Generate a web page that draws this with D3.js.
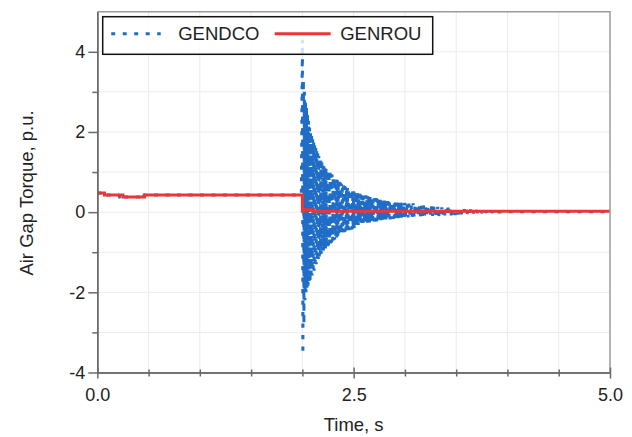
<!DOCTYPE html>
<html>
<head>
<meta charset="utf-8">
<script src="https://cdn.jsdelivr.net/npm/d3@7"></script>
<style>
    body { margin: 0; background: #fff; }
    #chart { width: 632px; height: 437px; }
    text { font-family: "Liberation Sans", Arial, sans-serif; fill: #222; }
</style>
</head>
<body>
<div id="chart"></div>
<script>
// GENROU (red), stepwise torque
const genrouTime   = [0, 0.07, 0.07, 0.25, 0.25, 0.46, 0.46, 2.0, 2.0, 2.02, 2.02, 2.1, 2.1, 5.0];
const genrouTorque = [0.48, 0.48, 0.43, 0.43, 0.38, 0.38, 0.43, 0.43, 0.03, 0.03, 0.06, 0.06, 0.02, 0.02];

// GENDCO (blue dotted) before the fault
const gendcoPreTime   = [0, 0.07, 0.07, 0.21, 0.22, 0.23, 0.25, 0.42, 0.43, 0.44, 0.46, 1.99];
const gendcoPreTorque = [0.48, 0.48, 0.43, 0.43, 0.35, 0.43, 0.38, 0.38, 0.45, 0.38, 0.43, 0.43];

// GENDCO oscillation after the fault, alternating peaks
// 2.00 - 3.00 s, one peak every 0.005 s
const gendcoFastStart = 2.0;
const gendcoFastStep = 0.005;
const gendcoFastTorque = [
    4.3, -3.55, 3.3, -2.8, 3.0, -2.2, 2.8, -2.0, 2.65, -1.92, 2.48, -1.86, 2.3, -1.8, 2.12, -1.74, 2.0, -1.66, 1.9, -1.58,
    1.82, -1.52, 1.74, -1.46, 1.66, -1.38, 1.6, -1.3, 1.52, -1.24, 1.46, -1.17, 1.4, -1.12, 1.34, -1.07, 1.28, -1.03, 1.24, -0.99,
    1.2, -0.96, 1.16, -0.94, 1.12, -0.91, 1.09, -0.88, 1.06, -0.85, 1.03, -0.83, 1.0, -0.8, 0.98, -0.78, 0.95, -0.76, 0.93, -0.73,
    0.9, -0.7, 0.88, -0.68, 0.85, -0.66, 0.83, -0.63, 0.8, -0.61, 0.78, -0.58, 0.76, -0.56, 0.74, -0.54, 0.71, -0.53, 0.69, -0.52,
    0.67, -0.5, 0.65, -0.49, 0.63, -0.48, 0.61, -0.47, 0.6, -0.46, 0.58, -0.45, 0.57, -0.44, 0.56, -0.44, 0.55, -0.43, 0.54, -0.42,
    0.52, -0.4, 0.51, -0.38, 0.5, -0.36, 0.49, -0.34, 0.48, -0.32, 0.47, -0.3, 0.46, -0.29, 0.45, -0.28, 0.44, -0.28, 0.44, -0.27,
    0.43, -0.27, 0.41, -0.28, 0.42, -0.26, 0.39, -0.27, 0.4, -0.25, 0.38, -0.26, 0.38, -0.24, 0.36, -0.25, 0.37, -0.23, 0.35, -0.24,
    0.35, -0.24, 0.34, -0.22, 0.35, -0.23, 0.33, -0.21, 0.33, -0.22, 0.32, -0.21, 0.31, -0.2, 0.32, -0.2, 0.3, -0.19, 0.3, -0.2,
    0.29, -0.19, 0.3, -0.18, 0.28, -0.19, 0.28, -0.18, 0.27, -0.17, 0.28, -0.18, 0.26, -0.17, 0.27, -0.16, 0.26, -0.17, 0.25, -0.16,
    0.26, -0.16, 0.25, -0.15, 0.24, -0.16, 0.25, -0.15, 0.24, -0.14, 0.23, -0.15, 0.24, -0.14, 0.23, -0.14, 0.22, -0.13, 0.23, -0.14
];
// 3.00 - 3.95 s, one peak every 0.01 s
const gendcoSlowStart = 3.0;
const gendcoSlowStep = 0.01;
const gendcoSlowTorque = [
    0.23, -0.14, 0.24, -0.13, 0.22, -0.14, 0.21, -0.12, 0.22, -0.13,
    0.2, -0.12, 0.19, -0.11, 0.19, -0.12, 0.17, -0.11, 0.18, -0.1,
    0.16, -0.11, 0.17, -0.1, 0.15, -0.1, 0.14, -0.09, 0.15, -0.1,
    0.13, -0.09, 0.13, -0.1, 0.12, -0.08, 0.12, -0.09, 0.11, -0.08,
    0.1, -0.08, 0.11, -0.07, 0.09, -0.08, 0.09, -0.06, 0.08, -0.07,
    0.08, -0.06, 0.07, -0.05, 0.08, -0.05, 0.06, -0.04, 0.07, -0.05,
    0.06, -0.04, 0.05, -0.03, 0.06, -0.04, 0.05, -0.03, 0.04, -0.03,
    0.05, -0.02, 0.04, -0.03, 0.04, -0.02, 0.03, -0.02, 0.04, -0.01,
    0.03, -0.02, 0.03, -0.01, 0.03, -0.01, 0.02, -0.01, 0.03, 0.0,
    0.02, -0.01, 0.02, 0.0, 0.01, 0.0
];
const gendcoTailTime   = [3.96, 5.0];
const gendcoTailTorque = [0.01, 0.01];

const xMajorTicks = [0, 2.5, 5];
const xMinorTicks = [0.5, 1, 1.5, 2, 3, 3.5, 4, 4.5];
const yMajorTicks = [-4, -2, 0, 2, 4];
const yMinorTicks = [-3, -1, 1, 3];
const seriesNames = ["GENDCO", "GENROU"];


class TorqueVis {

    constructor(_parentElement) {
        this.parentElement = _parentElement;
        this.initVis();
    }

    initVis() {
        let vis = this;

        vis.margin = {top: 11.7, right: 22, bottom: 64.5, left: 97.3};
        vis.width = 632 - vis.margin.left - vis.margin.right;
        vis.height = 437 - vis.margin.top - vis.margin.bottom;

        vis.svg = d3.select("#" + vis.parentElement).append("svg")
            .attr("width", 632)
            .attr("height", 437)
            .append("g")
            .attr("transform", "translate(" + vis.margin.left + "," + vis.margin.top + ")");

        vis.x = d3.scaleLinear().domain([0, 5]).range([0, vis.width]);
        vis.y = d3.scaleLinear().domain([-4, 5]).range([vis.height, 0]);

        vis.blue = "#1f6dc6";
        vis.red = "#ee3535";

        vis.wrangleData();
    }

    wrangleData() {
        let vis = this;

        vis.genrou = genrouTime.map((t, i) => [t, genrouTorque[i]]);

        vis.gendco = gendcoPreTime.map((t, i) => [t, gendcoPreTorque[i]])
            .concat(gendcoFastTorque.map((v, i) => [gendcoFastStart + i * gendcoFastStep, v]))
            .concat(gendcoSlowTorque.map((v, i) => [gendcoSlowStart + i * gendcoSlowStep, v]))
            .concat(gendcoTailTime.map((t, i) => [t, gendcoTailTorque[i]]));

        vis.updateVis();
    }

    updateVis() {
        let vis = this;

        // grid
        let grid = vis.svg.append("g").attr("class", "grid");
        grid.selectAll(".gx")
            .data(d3.range(1, 10).map(d => d * 0.5))
            .enter().append("line")
            .attr("x1", d => vis.x(d)).attr("x2", d => vis.x(d))
            .attr("y1", 0).attr("y2", vis.height)
            .attr("stroke", "#ebebeb").attr("stroke-width", 1);
        grid.selectAll(".gy")
            .data(d3.range(-3, 5))
            .enter().append("line")
            .attr("x1", 0).attr("x2", vis.width)
            .attr("y1", d => vis.y(d)).attr("y2", d => vis.y(d))
            .attr("stroke", "#ebebeb").attr("stroke-width", 1);

        let line = d3.line()
            .x(d => vis.x(d[0]))
            .y(d => vis.y(d[1]));

        vis.svg.append("path")
            .datum(vis.gendco)
            .attr("d", line)
            .attr("fill", "none")
            .attr("stroke", vis.blue)
            .attr("stroke-width", 3)
            .attr("stroke-linejoin", "bevel")
            .attr("stroke-dasharray", "4,7.5");

        vis.svg.append("path")
            .datum(vis.genrou)
            .attr("d", line)
            .attr("fill", "none")
            .attr("stroke", vis.red)
            .attr("stroke-width", 3);

        // frame top / right
        vis.svg.append("path")
            .attr("d", "M0,0H" + vis.width + "V" + vis.height)
            .attr("fill", "none")
            .attr("stroke", "#9a9a9a")
            .attr("stroke-width", 1.5);

        // axes
        vis.svg.append("g")
            .attr("class", "axis axis-y")
            .call(d3.axisLeft(vis.y).tickValues(yMajorTicks).tickSize(9).tickSizeOuter(0)
                .tickPadding(3).tickFormat(d => d.toString()));
        vis.svg.append("g")
            .attr("class", "axis axis-y-minor")
            .call(d3.axisLeft(vis.y).tickValues(yMinorTicks).tickSize(5).tickSizeOuter(0).tickFormat(""));

        let xAxis = vis.svg.append("g")
            .attr("class", "axis axis-x")
            .attr("transform", "translate(0," + vis.height + ")")
            .call(d3.axisBottom(vis.x).tickValues(xMajorTicks).tickSize(6).tickSizeOuter(0)
                .tickPadding(10).tickFormat(d3.format(".1f")));
        xAxis.selectAll(".tick line").attr("y1", -5);
        let xMinor = vis.svg.append("g")
            .attr("class", "axis axis-x-minor")
            .attr("transform", "translate(0," + vis.height + ")")
            .call(d3.axisBottom(vis.x).tickValues(xMinorTicks).tickSize(4).tickSizeOuter(0).tickFormat(""));
        xMinor.selectAll(".tick line").attr("y1", -3);

        vis.svg.selectAll(".axis path.domain").attr("stroke", "#6a6a6a").attr("stroke-width", 1.5);
        vis.svg.selectAll(".axis .tick line").attr("stroke", "#6a6a6a").attr("stroke-width", 1.5);
        vis.svg.selectAll(".axis .tick text")
            .attr("font-size", 18)
            .attr("font-family", "Liberation Sans, Arial, sans-serif")
            .attr("fill", "#222");

        // axis labels
        vis.svg.append("text")
            .attr("x", vis.width / 2)
            .attr("y", vis.height + 59)
            .style("text-anchor", "middle")
            .style("font-size", "18.5px")
            .text("Time, s");

        vis.svg.append("text")
            .attr("transform", "rotate(-90)")
            .attr("x", -(193 - vis.margin.top))
            .attr("y", 33 - vis.margin.left)
            .style("text-anchor", "middle")
            .style("font-size", "18.5px")
            .text("Air Gap Torque, p.u.");

        // legend
        let legend = vis.svg.append("g")
            .attr("transform", "translate(" + (102.7 - vis.margin.left) + "," + (16.7 - vis.margin.top) + ")");
        legend.append("rect")
            .attr("width", 330).attr("height", 37.6)
            .attr("fill", "#fff").attr("fill-opacity", 0.8)
            .attr("stroke", "#111").attr("stroke-width", 1.5);

        let items = [
            {name: seriesNames[0], color: vis.blue, dash: "4,7.5", x0: 8.5, x1: 58, tx: 75.5},
            {name: seriesNames[1], color: vis.red, dash: null, x0: 172, x1: 228, tx: 237.5}
        ];
        items.forEach(d => {
            legend.append("line")
                .attr("x1", d.x0).attr("x2", d.x1)
                .attr("y1", 17).attr("y2", 17)
                .attr("stroke", d.color)
                .attr("stroke-width", 3)
                .attr("stroke-dasharray", d.dash);
            legend.append("text")
                .attr("x", d.tx)
                .attr("y", 17)
                .attr("dy", "0.35em")
                .style("font-size", "18.5px")
                .text(d.name);
        });
    }
}

new TorqueVis("chart");
</script>
</body>
</html>
